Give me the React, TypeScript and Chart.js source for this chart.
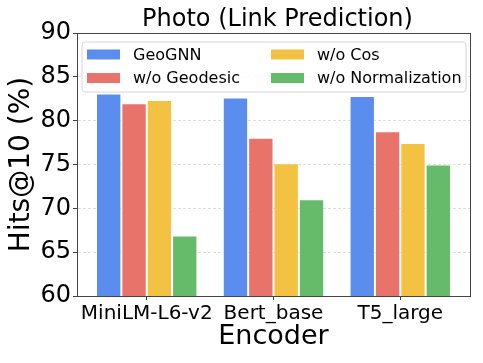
import React, { useEffect, useRef } from "react";
import { Chart, registerables } from "chart.js";

Chart.register(...registerables);

const chartTitle = "Photo (Link Prediction)";
const categories = ["MiniLM-L6-v2", "Bert_base", "T5_large"];
const seriesNames = ["GeoGNN", "w/o Geodesic", "w/o Cos", "w/o Normalization"];
const geoGNN = [83.1, 82.65, 82.8];
const woGeodesic = [82.0, 78.05, 78.8];
const woCos = [82.35, 75.15, 77.45];
const woNormalization = [66.9, 71.05, 75.0];
const seriesValues = [geoGNN, woGeodesic, woCos, woNormalization];
const seriesColors = ["#5B8DEE", "#E8736A", "#F4C243", "#66BB6A"];
const yTicks = [60, 65, 70, 75, 80, 85, 90];

const FONT = "'DejaVu Sans', sans-serif";

const framePlugin = {
  id: "frame",
  afterDatasetsDraw(chart: any) {
    const { ctx, chartArea } = chart;
    ctx.save();
    ctx.strokeStyle = "#444";
    ctx.lineWidth = 1;
    ctx.strokeRect(
      Math.round(chartArea.left) + 0.5,
      Math.round(chartArea.top) + 0.5,
      Math.round(chartArea.right - chartArea.left),
      Math.round(chartArea.bottom - chartArea.top)
    );
    ctx.restore();
  },
};

const titlePlugin = {
  id: "axesTitle",
  afterDraw(chart: any) {
    const { ctx, chartArea } = chart;
    ctx.save();
    ctx.font = `24px ${FONT}`;
    ctx.fillStyle = "#000";
    ctx.textAlign = "center";
    ctx.textBaseline = "middle";
    ctx.fillText(chartTitle, (chartArea.left + chartArea.right) / 2 + 4, chartArea.top - 13.5);
    ctx.restore();
  },
};

const legendPlugin = {
  id: "customLegend",
  afterDraw(chart: any) {
    const { ctx, chartArea } = chart;
    const x0 = chartArea.left + 5;
    const y0 = chartArea.top + 9;
    const w = chartArea.right - chartArea.left - 9;
    const h = 50;
    ctx.save();
    ctx.beginPath();
    const r = 3;
    ctx.moveTo(x0 + r, y0);
    ctx.lineTo(x0 + w - r, y0);
    ctx.quadraticCurveTo(x0 + w, y0, x0 + w, y0 + r);
    ctx.lineTo(x0 + w, y0 + h - r);
    ctx.quadraticCurveTo(x0 + w, y0 + h, x0 + w - r, y0 + h);
    ctx.lineTo(x0 + r, y0 + h);
    ctx.quadraticCurveTo(x0, y0 + h, x0, y0 + h - r);
    ctx.lineTo(x0, y0 + r);
    ctx.quadraticCurveTo(x0, y0, x0 + r, y0);
    ctx.closePath();
    ctx.fillStyle = "rgba(255,255,255,0.8)";
    ctx.fill();
    ctx.strokeStyle = "#d6d6d6";
    ctx.lineWidth = 1;
    ctx.stroke();
    ctx.font = `16px ${FONT}`;
    ctx.textBaseline = "middle";
    ctx.textAlign = "left";
    const datasets = chart.data.datasets;
    datasets.forEach((ds: any, i: number) => {
      const col = Math.floor(i / 2);
      const row = i % 2;
      const sx = x0 + 5 + col * 184;
      const cy = y0 + 12.5 + row * 23.5;
      ctx.fillStyle = ds.backgroundColor;
      ctx.fillRect(sx, cy - 5, 33, 10);
      ctx.fillStyle = "#000";
      ctx.fillText(ds.label, sx + 46, cy + 1);
    });
    ctx.restore();
  },
};

export default function App() {
  const ref = useRef<HTMLCanvasElement>(null);
  useEffect(() => {
    if (!ref.current) return;
    const chart = new Chart(ref.current, {
      type: "bar",
      data: {
        datasets: seriesNames.map((name, i) => ({
          label: name,
          data: seriesValues[i].map((v, j) => ({ x: j, y: v })),
          backgroundColor: seriesColors[i],
          borderColor: "rgba(255,255,255,0.35)",
          borderWidth: 1,
          barPercentage: 1,
          categoryPercentage: 0.8,
        })),
      },
      plugins: [framePlugin, legendPlugin, titlePlugin],
      options: {
        animation: false,
        responsive: false,
        maintainAspectRatio: false,
        layout: { padding: { left: 0, right: 13, top: 33, bottom: 0 } },
        plugins: {
          legend: { display: false },
          tooltip: { enabled: false },
          title: { display: false },
        },
        scales: {
          x: {
            type: "linear",
            min: -0.55,
            max: 2.55,
            offset: false,
            afterBuildTicks: (s: any) => {
              s.ticks = categories.map((_, i) => ({ value: i }));
            },
            afterFit: (s: any) => {
              s.height = 67;
            },
            ticks: {
              callback: (v: any) => categories[Math.round(Number(v))] ?? "",
              color: "#000",
              font: { family: FONT, size: 20 },
              padding: 2,
              maxRotation: 0,
              autoSkip: false,
            },
            grid: {
              offset: false,
              drawOnChartArea: false,
              drawTicks: true,
              tickLength: 4,
              tickColor: "#444",
            },
            border: { display: true, color: "#444" },
            title: {
              display: true,
              text: "Encoder",
              color: "#000",
              font: { family: FONT, size: 27 },
              padding: { top: 0, bottom: 10 },
            },
          },
          y: {
            min: 60,
            max: 90,
            afterBuildTicks: (s: any) => {
              s.ticks = yTicks.map((v) => ({ value: v }));
            },
            afterFit: (s: any) => {
              s.width = 77;
            },
            ticks: {
              color: "#000",
              font: { family: FONT, size: 24 },
              padding: 2,
            },
            grid: {
              color: "#dedede",
              drawTicks: true,
              tickLength: 4,
              tickColor: "#444",
              tickBorderDash: [],
            },
            border: { display: true, color: "#444", dash: [3, 2] },
            title: {
              display: true,
              text: "Hits@10 (%)",
              color: "#000",
              font: { family: FONT, size: 28 },
              padding: { top: 5, bottom: 0 },
            },
          },
        },
      },
    });
    return () => chart.destroy();
  }, []);
  return (
    <div style={{ position: "fixed", left: 0, top: 0, width: 483, height: 363, background: "#fff" }}>
      <canvas ref={ref} width={483} height={363} style={{ width: 483, height: 363 }} />
    </div>
  );
}
